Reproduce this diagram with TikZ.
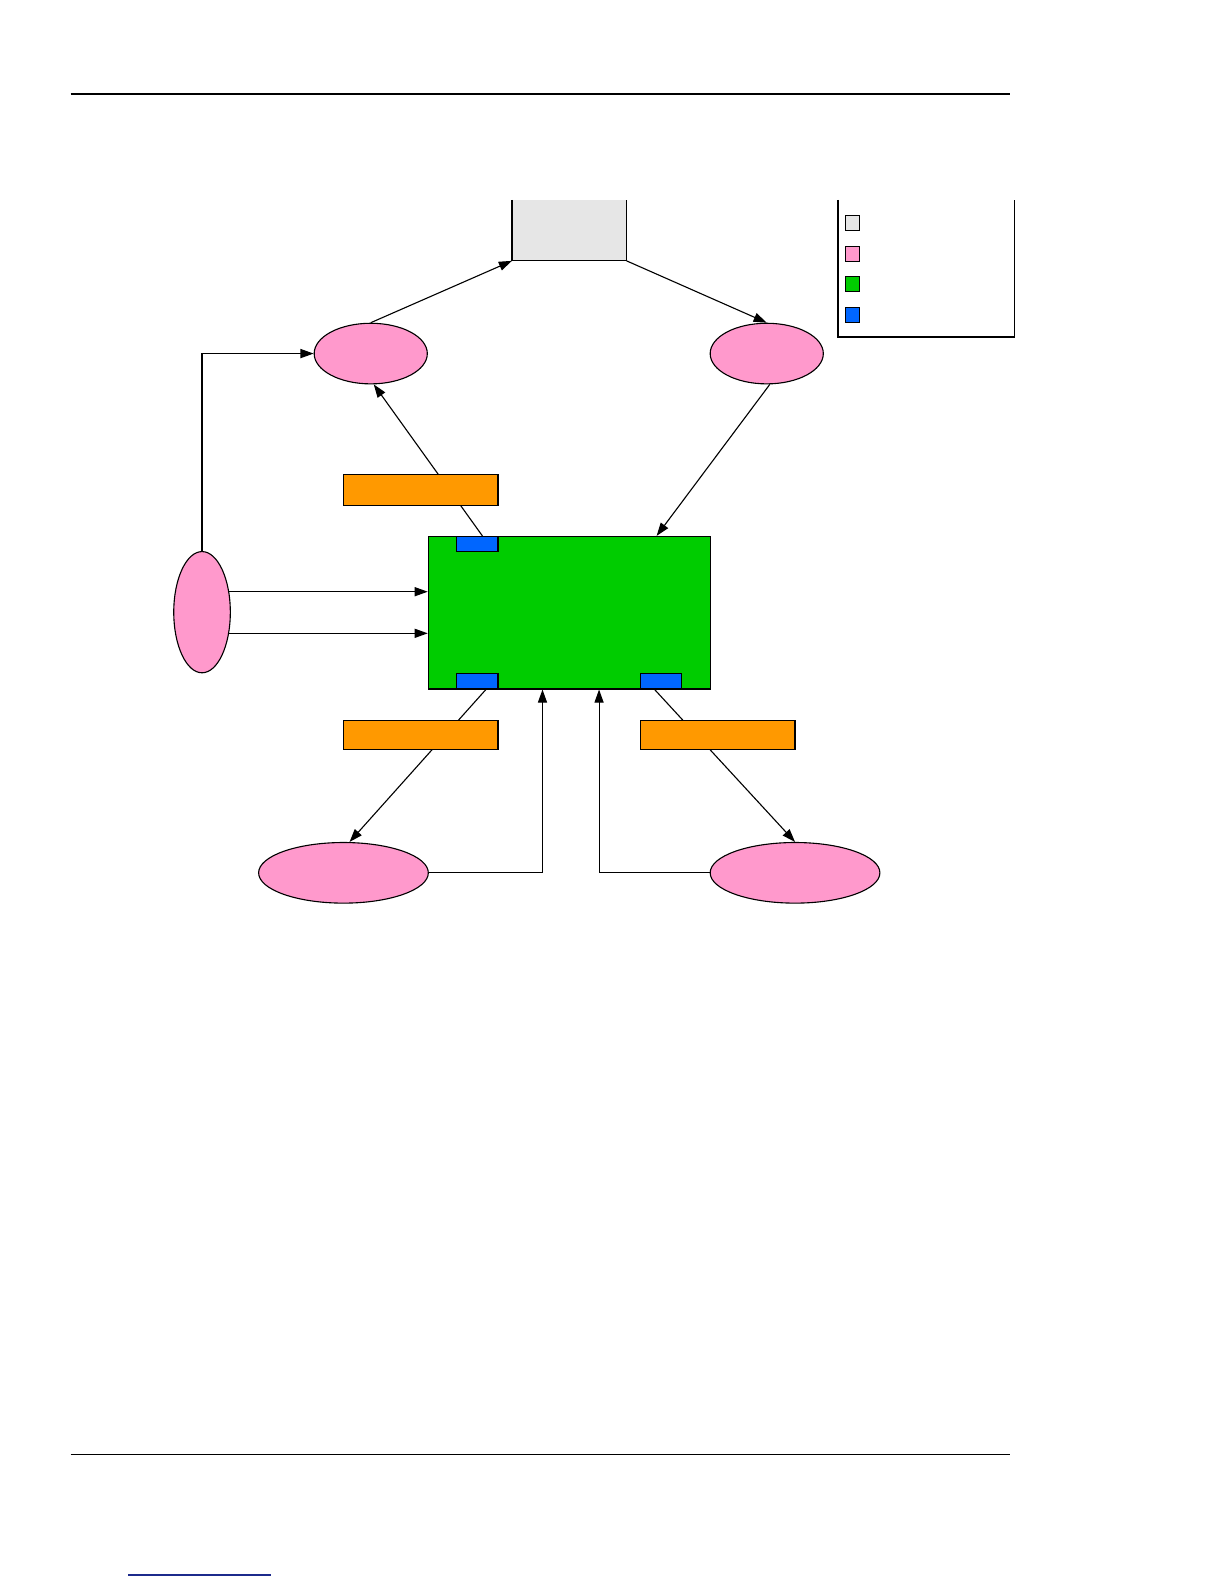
\documentclass[tikz,border=0pt]{standalone}
\usetikzlibrary{shapes.geometric,arrows.meta,calc}
\definecolor{greyfill}{HTML}{E6E6E6}
\definecolor{pinkfill}{HTML}{FF99CC}
\definecolor{greenfill}{HTML}{00CC00}
\definecolor{bluefill}{HTML}{0066FF}
\definecolor{orangefill}{HTML}{FF9900}
\definecolor{linkblue}{HTML}{1C2A8C}
\tikzset{
  oval/.style={ellipse, draw=black, fill=pinkfill, line width=1.1pt, inner sep=0pt},
  box/.style={rectangle, draw=black, line width=1.1pt, inner sep=0pt},
  tab/.style={box, fill=bluefill, minimum width=41pt, minimum height=15pt},
  orangebox/.style={box, fill=orangefill, minimum width=153pt},
  swatch/.style={box, line width=0.9pt, minimum width=14pt, minimum height=15pt},
  arr/.style={line width=1.1pt, -{Triangle[length=13pt,width=9pt]}},
  plain/.style={line width=1.1pt},
  rule/.style={line width=1.2pt, black}
}
\begin{document}
\begin{tikzpicture}[x=1pt,y=-1pt]
\useasboundingbox (0,0) rectangle (1210,1568);
% page rules
\coordinate (h1) at (70,93); \coordinate (h2) at (1000,93);
\draw[rule] (h1) -- (h2);
\coordinate (f1) at (70,1440); \coordinate (f2) at (1000,1440);
\draw[rule] (f1) -- (f2);
\coordinate (l1) at (127,1559); \coordinate (l2) at (268,1559);
\draw[line width=1.6pt, linkblue] (l1) -- (l2);

% grey box (top edge clipped)
\node[rectangle, fill=greyfill, inner sep=0pt, minimum width=113pt, minimum height=60pt] (grey) at (563.5,228) {};
\draw[line width=1.1pt] (grey.north west) -- (grey.south west) -- (grey.south east);
\draw[line width=1.8pt] (grey.south east) -- (grey.north east);

% legend (top edge clipped)
\node[rectangle, inner sep=0pt, minimum width=174pt, minimum height=135pt] (legend) at (917,265.5) {};
\draw[line width=1.9pt] (legend.north west) -- (legend.south west) -- (legend.south east) -- (legend.north east);
\node[swatch, fill=greyfill] (s1) at (844,220.5) {};
\node[swatch, fill=pinkfill] (s2) at (844,251.5) {};
\node[swatch, fill=greenfill] (s3) at (844,281.5) {};
\node[swatch, fill=bluefill] (s4) at (844,311.5) {};

% ellipses
\node[oval, minimum width=112pt, minimum height=60pt] (A) at (367,350) {};
\node[oval, minimum width=112pt, minimum height=60pt] (B) at (759,350) {};
\node[oval, minimum width=56pt, minimum height=120pt] (C) at (200,606) {};
\node[oval, minimum width=168pt, minimum height=60pt] (D) at (340,864) {};
\node[oval, minimum width=168pt, minimum height=60pt] (E) at (787,864) {};

% green block and tabs
\node[box, fill=greenfill, minimum width=279pt, minimum height=151pt] (green) at (563.5,606.5) {};
\node[tab] (t1) at (472.5,538.5) {};
\node[tab] (t2) at (472.5,674.5) {};
\node[tab] (t3) at (654.5,674.5) {};

% connectors
\draw[arr] (A.north) -- (grey.south west);
\draw[arr] (grey.south east) -- (B.north);
\draw[arr] ([xshift=3pt]B.south) -- ([xshift=86.5pt]green.north);
\draw[arr] ([xshift=5pt]t1.north) -- ([xshift=3pt]A.south);
\draw[arr] (C.north) |- (A.west);
\draw[arr] (C.37) -- (C.37 -| green.west);
\draw[arr] (C.-38) -- (C.-38 -| green.west);
\draw[arr] ([xshift=8.5pt]t2.south) -- ([xshift=6pt]D.north);
\draw[arr] ([xshift=-6.5pt]t3.south) -- (E.north);
\draw[arr] (D.east) -| ([xshift=-26.5pt]green.south);
\draw[arr] (E.west) -| ([xshift=29.5pt]green.south);

% orange boxes (drawn over the lines that pass behind them)
\node[orangebox, minimum height=30pt] (o1) at (416.5,485) {};
\node[orangebox, minimum height=29pt] (o2) at (416.5,727.5) {};
\node[orangebox, minimum height=29pt] (o3) at (710.5,727.5) {};
\end{tikzpicture}
\end{document}
